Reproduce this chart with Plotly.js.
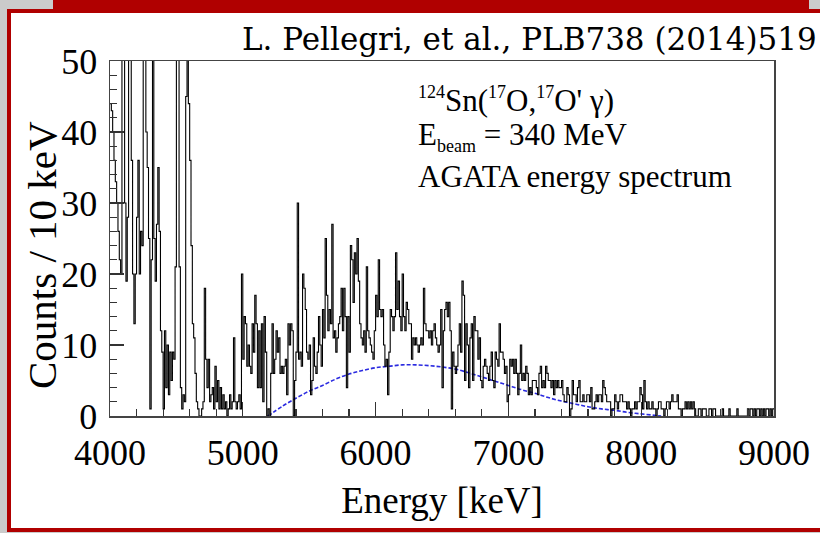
<!DOCTYPE html>
<html>
<head>
<meta charset="utf-8">
<script src="https://cdn.plot.ly/plotly-3.0.1.min.js"></script>
<style>
  html, body { margin: 0; padding: 0; width: 820px; height: 533px; overflow: hidden; background: #cbcbcb; }
  #topband { position: absolute; left: 53px; top: 0; width: 756px; height: 9px; background: #b00000; }
  #panel { position: absolute; left: 7px; top: 9px; width: 830px; height: 515px; background: #ffffff; border: 4px solid #b00000; border-right: none; box-sizing: content-box; }
  #plot { position: absolute; left: 0; top: 0; width: 820px; height: 533px; }
</style>
</head>
<body>
<div id="topband"></div>
<div id="panel"></div>
<div id="plot"></div>
<script>
// ---- data ----
const binStart = 4000;   // keV, left edge of first bin
const binWidth = 10;     // keV per bin
const counts = [
  44,43,40,36,33,30,26,22,20,62,
  75,30,19,28,120,90,36,20,13,20,
  28,36,20,26,24,70,95,40,35,25,
  1,22,80,25,19,27,35,26,12,9,
  1,12,4,10,3,9,5,9,8,21,
  70,65,21,4,1,3,2,45,80,44,
  36,24,13,11,6,2,1,0,0,1,
  2,18,8,4,8,2,3,4,1,7,
  2,5,1,4,1,3,1,2,0,1,
  3,1,2,11,2,1,2,3,1,20,
  8,14,13,7,10,7,6,13,9,17,
  13,4,12,4,13,2,14,9,0,1,
  0,6,13,6,8,12,9,11,6,7,
  6,7,8,3,13,10,13,12,0,5,
  9,30,8,9,7,20,18,15,9,8,
  10,3,5,11,7,6,9,14,10,7,
  15,11,25,17,12,15,13,27,11,12,
  9,11,13,14,18,12,18,14,4,14,
  9,24,22,16,23,20,25,19,13,11,
  10,12,9,21,12,11,10,9,8,12,
  17,14,22,15,14,15,10,7,8,3,
  9,15,14,12,14,23,15,19,14,12,
  20,14,12,16,15,13,13,8,11,10,
  11,10,9,10,11,10,18,13,12,12,
  11,12,10,12,13,11,10,9,10,15,
  4,12,15,16,14,16,12,1,9,7,
  6,7,10,13,9,19,17,5,13,10,
  4,11,13,5,14,12,12,8,11,5,
  4,7,8,7,6,5,7,9,5,4,
  9,8,7,13,9,9,8,6,7,2,
  3,8,7,8,6,8,6,3,6,10,
  5,6,5,7,6,3,4,3,5,5,
  5,4,3,6,7,4,5,4,7,6,
  5,5,4,5,3,5,4,5,4,4,
  5,3,2,2,4,3,0,1,5,3,
  3,2,4,5,2,2,3,2,2,3,
  3,2,4,1,1,2,3,2,3,3,
  2,5,4,3,2,2,2,0,1,1,
  3,2,1,2,3,3,2,2,2,1,
  2,1,0,1,1,2,1,2,2,4,
  3,1,5,2,1,2,1,1,2,1,
  1,0,1,2,2,1,1,0,1,2,
  2,1,2,3,2,2,2,3,1,1,
  0,1,1,2,1,2,1,2,1,2,
  1,0,0,1,1,0,1,1,1,0,
  0,1,1,0,1,1,0,0,0,0,
  0,1,0,0,0,0,1,0,0,0,
  0,0,1,0,0,0,0,0,0,0,
  1,0,1,1,0,1,0,1,1,0,
  1,0,1,0,1,1,0,1,0,1
];
// blue dashed background fit (energy keV, counts)
const fitEnergy = [5190,5300,5400,5500,5600,5700,5800,5900,6000,6100,6200,6300,6400,6500,6600,6700,6800,6900,7000,7100,7200,7300,7400,7500,7600,7700,7800,7900,8000,8100,8150];
const fitCounts = [0,1.4,2.5,3.5,4.3,5.2,5.9,6.4,6.8,7.0,7.2,7.2,7.1,6.9,6.6,6.1,5.5,4.9,4.3,3.7,3.2,2.6,2.1,1.7,1.3,1.0,0.8,0.5,0.3,0.1,0];
const xTickVals = [4000,5000,6000,7000,8000,9000];
const yTickVals = [0,10,20,30,40,50];
const supSpan = s => "<sup><span style='font-size:18px'>" + s + "</span></sup>";
const reactionText = supSpan("124") + "Sn(" + supSpan("17") + "O," + supSpan("17") + "O' γ)";
const beamText = "E<sub><span style='font-size:18px'>beam</span></sub> = 340 MeV";
const spectrumText = "AGATA energy spectrum";
const refText = "L. Pellegri, et al., PLB738 (2014)519";
const xTitle = "Energy [keV]";
const yTitle = "Counts / 10 keV";

// ---- build histogram as step line ----
const edges = counts.map((c, i) => binStart + i * binWidth);
const histX = edges.concat([binStart + counts.length * binWidth]);
const histY = counts.concat([counts[counts.length - 1]]);

// plot area geometry in pixels
const L = 110, R = 774, T = 61, B = 416, W = 820, H = 533;
const px = x => (x - L) / (R - L);
const py = y => (B - y) / (B - T);

const serif = "Liberation Serif, Times New Roman, serif";

const traces = [
  { x: fitEnergy, y: fitCounts, type: 'scatter', mode: 'lines',
    line: { color: '#2a2ae0', width: 1.6, dash: '4px,2px', shape: 'spline' }, hoverinfo: 'skip' },
  { x: histX, y: histY, type: 'scatter', mode: 'lines',
    line: { color: '#000000', width: 1.1, shape: 'hv' }, hoverinfo: 'skip' }
];

const layout = {
  width: W, height: H,
  margin: { l: L, r: W - R, t: T, b: H - B, pad: 0 },
  paper_bgcolor: 'rgba(0,0,0,0)',
  plot_bgcolor: '#ffffff',
  showlegend: false,
  font: { family: serif, color: '#000' },
  xaxis: {
    range: [4000, 9000], tickvals: xTickVals, ticktext: xTickVals.map(String),
    ticks: 'inside', ticklen: 14, tickwidth: 1.2, tickcolor: '#333',
    minor: { dtick: 200, ticks: 'inside', ticklen: 7, tickwidth: 1.2, tickcolor: '#333', showgrid: false },
    showline: true, linecolor: '#444', linewidth: 1.5, mirror: true,
    showgrid: false, zeroline: false, automargin: false,
    tickfont: { family: serif, size: 36, color: '#000' },
    ticklabelstandoff: 4,
    title: { text: xTitle, font: { family: serif, size: 37, color: '#000' }, standoff: 15 }
  },
  yaxis: {
    range: [0, 50], tickvals: yTickVals, ticktext: yTickVals.map(String),
    ticks: 'inside', ticklen: 14, tickwidth: 1.2, tickcolor: '#333',
    minor: { dtick: 2, ticks: 'inside', ticklen: 7, tickwidth: 1.2, tickcolor: '#333', showgrid: false },
    showline: true, linecolor: '#444', linewidth: 1.5, mirror: true,
    showgrid: false, zeroline: false, automargin: false,
    tickfont: { family: serif, size: 36, color: '#000' },
    ticklabelstandoff: 4
  },
  annotations: [
    { text: yTitle, xref: 'paper', yref: 'paper', x: px(42), y: py(255), xanchor: 'center', yanchor: 'middle',
      textangle: -90, showarrow: false, font: { family: serif, size: 41, color: '#000' } },
    { text: refText, xref: 'paper', yref: 'paper', x: px(819), y: py(39), xanchor: 'right', yanchor: 'middle',
      showarrow: false, font: { family: "DejaVu Serif, serif", size: 31, color: '#000' } },
    { text: reactionText, xref: 'paper', yref: 'paper', x: px(416), y: py(100), xanchor: 'left', yanchor: 'middle',
      showarrow: false, font: { family: serif, size: 31, color: '#000' } },
    { text: beamText, xref: 'paper', yref: 'paper', x: px(416), y: py(136), xanchor: 'left', yanchor: 'middle',
      showarrow: false, font: { family: serif, size: 31, color: '#000' } },
    { text: spectrumText, xref: 'paper', yref: 'paper', x: px(416), y: py(176), xanchor: 'left', yanchor: 'middle',
      showarrow: false, font: { family: serif, size: 31, color: '#000' } }
  ]
};

Plotly.newPlot('plot', traces, layout, { staticPlot: true, displayModeBar: false });
</script>
</body>
</html>
